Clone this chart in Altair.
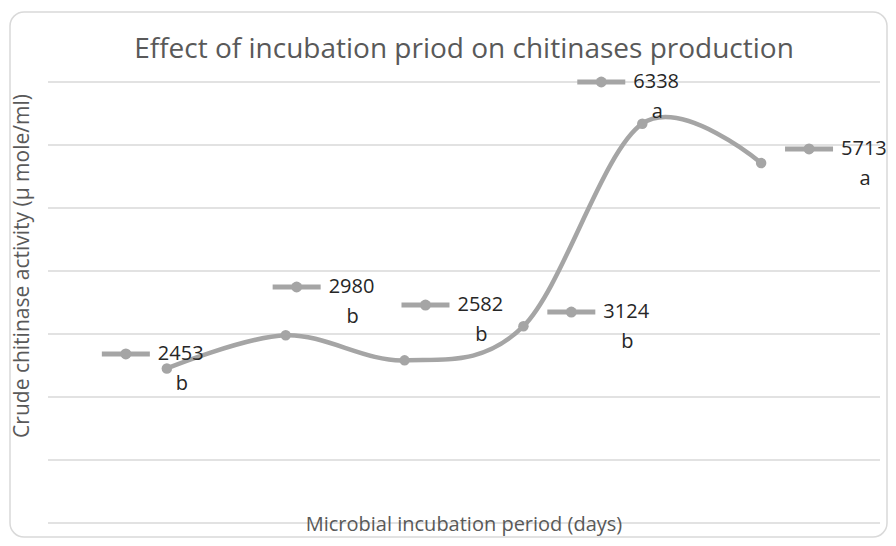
import altair as alt
import pandas as pd

# ---- data ----
periods = [1, 2, 3, 4, 5, 6]
activity = [2453, 2980, 2582, 3124, 6338, 5713]
letters = ["b", "b", "b", "b", "a", "a"]
# data-label anchors (manually placed labels in the original), in data units
label_x = [0.655, 2.092, 3.176, 4.403, 4.655, 6.403]
label_y = [2683, 3746, 3460, 3349, 7000, 5937]
y_grid = [0, 1000, 2000, 3000, 4000, 5000, 6000, 7000]
chart_title = "Effect of incubation priod on chitinases production"
x_title = "Microbial incubation period (days)"
y_title = "Crude chitinase activity (µ mole/ml)"

df = pd.DataFrame({
    "period": periods,
    "activity": activity,
    "letter": letters,
    "lx": label_x,
    "ly": label_y,
    "value_text": [str(v) for v in activity],
})
grid_df = pd.DataFrame({"g": y_grid})

GRAY = "#a5a5a5"
TXT = "#595959"
LBL = "#262626"
FONT = "Open Sans"

xscale = alt.Scale(domain=[0, 7], nice=False, zero=False)
yscale = alt.Scale(domain=[0, 7000], nice=False)

x_main = alt.X("period:Q", scale=xscale, axis=None)
y_main = alt.Y("activity:Q", scale=yscale, axis=None)

base = alt.Chart(df)

grid = alt.Chart(grid_df).mark_rule(color="#d9d9d9", strokeWidth=1.3).encode(
    y=alt.Y("g:Q", scale=yscale, axis=None), x=alt.value(0), x2=alt.value(832)
)

line = base.mark_line(interpolate="cardinal", color=GRAY, strokeWidth=4.5).encode(
    x=x_main, y=y_main
)
pts = base.mark_circle(color=GRAY, size=110, opacity=1).encode(x=x_main, y=y_main)

lx = alt.X("lx:Q", scale=xscale, axis=None)
ly = alt.Y("ly:Q", scale=yscale, axis=None)

key_line = base.mark_rule(color=GRAY, strokeWidth=5, xOffset=-24, x2Offset=24).encode(
    x=lx, x2="lx:Q", y=ly
)
key_pt = base.mark_circle(color=GRAY, size=120, opacity=1).encode(x=lx, y=ly)
val_text = base.mark_text(
    align="left", baseline="middle", dx=32, font=FONT, fontSize=20, color=LBL
).encode(x=lx, y=ly, text="value_text:N")
let_text = base.mark_text(
    align="center", baseline="middle", dx=56, dy=30, font=FONT, fontSize=20, color=LBL
).encode(x=lx, y=ly, text="letter:N")

one = alt.Data(values=[{"t": chart_title, "xt": x_title, "yt": y_title}])

border = alt.Chart(one).mark_rect(
    fill="#ffffff", fillOpacity=0, stroke="#d9d9d9", strokeOpacity=1,
    strokeWidth=1.5, cornerRadius=14,
).encode(
    x=alt.value(-38), x2=alt.value(839), y=alt.value(-70), y2=alt.value(455)
)

title = alt.Chart(one).mark_text(
    align="center", baseline="alphabetic", font=FONT, fontSize=28, color=TXT
).encode(x=alt.value(416), y=alt.value(-24), text="t:N")

xt = alt.Chart(one).mark_text(
    align="center", baseline="middle", font=FONT, fontSize=20, color=TXT
).encode(x=alt.value(416), y=alt.value(443), text="xt:N")

yt = alt.Chart(one).mark_text(
    align="center", baseline="middle", font=FONT, fontSize=21, color=TXT, angle=270
).encode(x=alt.value(-25), y=alt.value(184), text="yt:N")

chart = alt.layer(
    border, grid, line, pts, key_line, key_pt, val_text, let_text, title, xt, yt
).properties(
    width=832,
    height=441,
    autosize=alt.AutoSizeParams(type="none"),
    padding={"left": 40, "top": 74, "right": 8, "bottom": 15},
).configure_view(strokeWidth=0)

chart.save("out.html", embed_options={"renderer": "svg", "actions": False})
